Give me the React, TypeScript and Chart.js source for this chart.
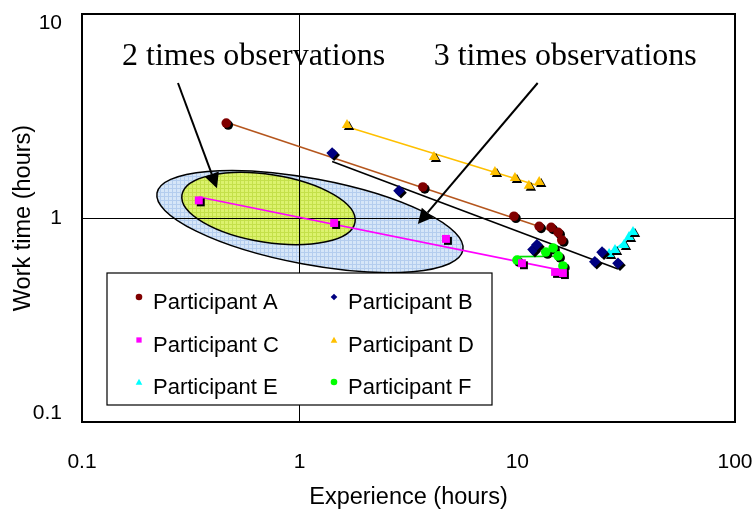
import React, { useEffect, useRef } from "react";
import { Chart, registerables } from "chart.js";

Chart.register(...registerables);

// ---------------- DATA ----------------
const participants = [
  "Participant A",
  "Participant B",
  "Participant C",
  "Participant D",
  "Participant E",
  "Participant F",
];

const aExperience = [0.46, 3.68, 9.65, 12.6, 14.3, 15.4, 16.0];
const aWorkTime = [2.92, 1.42, 1.02, 0.91, 0.9, 0.85, 0.78];

const bExperience = [1.41, 2.86, 11.8, 12.3, 24.5, 22.7, 29.0];
const bWorkTime = [2.08, 1.36, 0.7, 0.74, 0.68, 0.61, 0.6];

const cExperience = [0.344, 1.44, 4.7, 10.5, 14.9, 16.2];
const cWorkTime = [1.22, 0.945, 0.79, 0.6, 0.544, 0.537];

const dExperience = [1.65, 4.14, 7.89, 9.75, 11.3, 12.6];
const dWorkTime = [2.86, 1.99, 1.68, 1.57, 1.44, 1.5];

const eExperience = [26.4, 28.1, 30.9, 32.6, 34.0];
const eWorkTime = [0.666, 0.697, 0.738, 0.807, 0.854];

const fExperience = [9.96, 13.5, 14.6, 15.4, 16.2];
const fWorkTime = [0.622, 0.681, 0.713, 0.652, 0.582];

const xTickValues = [0.1, 1, 10, 100];
const yTickValues = [0.1, 1, 10];

const annotationTexts = ["2 times observations", "3 times observations"];

// ---------------- STYLE ----------------
const markerColors = ["#800000", "#000080", "#ff00ff", "#ffc000", "#00ffff", "#00ff00"];
const lineColors = ["#b5561e", "#000000", "#ff00ff", "#ffc000", "#00ffff", "#00dd00"];
const pointStyles = ["circle", "rectRot", "rect", "triangle", "triangle", "circle"];
const pointRadii = [4.8, 5.8, 5.6, 6, 6, 4.8];

const SANS = '"Liberation Sans", Arial, sans-serif';
const SERIF = '"Liberation Serif", "Times New Roman", serif';

const seriesX = [aExperience, bExperience, cExperience, dExperience, eExperience, fExperience];
const seriesY = [aWorkTime, bWorkTime, cWorkTime, dWorkTime, eWorkTime, fWorkTime];

function powerFit(xs: number[], ys: number[]) {
  const lx = xs.map((v) => Math.log10(v));
  const ly = ys.map((v) => Math.log10(v));
  const n = xs.length;
  const mx = lx.reduce((s, v) => s + v, 0) / n;
  const my = ly.reduce((s, v) => s + v, 0) / n;
  let sxy = 0;
  let sxx = 0;
  for (let i = 0; i < n; i++) {
    sxy += (lx[i] - mx) * (ly[i] - my);
    sxx += (lx[i] - mx) * (lx[i] - mx);
  }
  const b = sxy / sxx;
  const a = my - b * mx;
  const xmin = Math.min(...xs);
  const xmax = Math.max(...xs);
  return [xmin, xmax].map((x) => ({ x, y: Math.pow(10, a + b * Math.log10(x)) }));
}

// decorative overlay definitions (data coordinates)
const ellipseDefs = [
  { cx: 1.115, cy: 0.961, rx: 155.6, ry: 43, angle: 10.6, base: "#d6e6f8", line: "#b4cdee" },
  { cx: 0.719, cy: 1.113, rx: 87.6, ry: 34, angle: 8.9, base: "#dcf26e", line: "#c4e04a" },
];
const arrowDefs = [
  { x1: 0.276, y1: 4.59, x2: 0.417, y2: 1.4 },
  { x1: 12.4, y1: 4.59, x2: 3.49, y2: 0.935 },
];
const labelDefs = [
  { x: 0.614, y: 5.62 },
  { x: 16.6, y: 5.62 },
];

function makePattern(ctx: CanvasRenderingContext2D, base: string, line: string) {
  const c = document.createElement("canvas");
  c.width = 4;
  c.height = 4;
  const p = c.getContext("2d")!;
  p.fillStyle = base;
  p.fillRect(0, 0, 4, 4);
  p.fillStyle = line;
  p.fillRect(0, 0, 4, 1);
  p.fillRect(0, 0, 1, 4);
  return ctx.createPattern(c, "repeat") || base;
}

function drawMarker(ctx: CanvasRenderingContext2D, style: string, x: number, y: number, r: number, color: string) {
  ctx.fillStyle = color;
  ctx.beginPath();
  if (style === "circle") {
    ctx.arc(x, y, r, 0, Math.PI * 2);
  } else if (style === "rectRot") {
    ctx.moveTo(x, y - r);
    ctx.lineTo(x + r, y);
    ctx.lineTo(x, y + r);
    ctx.lineTo(x - r, y);
    ctx.closePath();
  } else if (style === "rect") {
    ctx.rect(x - r * 0.8, y - r * 0.8, r * 1.6, r * 1.6);
  } else {
    ctx.moveTo(x, y - r);
    ctx.lineTo(x + r, y + r * 0.8);
    ctx.lineTo(x - r, y + r * 0.8);
    ctx.closePath();
  }
  ctx.fill();
}

const overlayPlugin = {
  id: "overlay",
  beforeDraw(chart: any) {
    const { ctx, chartArea, scales } = chart;
    const xs = scales.x;
    const ys = scales.y;
    ctx.save();
    ctx.beginPath();
    ctx.rect(chartArea.left, chartArea.top, chartArea.right - chartArea.left, chartArea.bottom - chartArea.top);
    ctx.clip();
    for (const e of ellipseDefs) {
      const cx = xs.getPixelForValue(e.cx);
      const cy = ys.getPixelForValue(e.cy);
      ctx.beginPath();
      ctx.ellipse(cx, cy, e.rx, e.ry, (e.angle * Math.PI) / 180, 0, Math.PI * 2);
      ctx.fillStyle = makePattern(ctx, e.base, e.line);
      ctx.fill();
      ctx.lineWidth = 1.5;
      ctx.strokeStyle = "#000";
      ctx.stroke();
    }
    ctx.restore();
  },
  beforeDatasetDraw(chart: any, args: any) {
    const ds = chart.data.datasets[args.index];
    if (ds.showLine === false) {
      const ctx = chart.ctx;
      ctx.save();
      ctx.shadowColor = "#000";
      ctx.shadowOffsetX = 2;
      ctx.shadowOffsetY = 2;
      ctx.shadowBlur = 0;
    }
  },
  afterDatasetDraw(chart: any, args: any) {
    const ds = chart.data.datasets[args.index];
    if (ds.showLine === false) chart.ctx.restore();
  },
  afterDraw(chart: any) {
    const { ctx, chartArea, scales } = chart;
    const xs = scales.x;
    const ys = scales.y;
    ctx.save();
    // plot border
    ctx.strokeStyle = "#000";
    ctx.lineWidth = 2;
    ctx.strokeRect(chartArea.left, chartArea.top, chartArea.right - chartArea.left, chartArea.bottom - chartArea.top);

    // arrows
    for (const a of arrowDefs) {
      const x1 = xs.getPixelForValue(a.x1);
      const y1 = ys.getPixelForValue(a.y1);
      const x2 = xs.getPixelForValue(a.x2);
      const y2 = ys.getPixelForValue(a.y2);
      const ang = Math.atan2(y2 - y1, x2 - x1);
      const hl = 15;
      const hw = 7.5;
      const bx = x2 - hl * Math.cos(ang);
      const by = y2 - hl * Math.sin(ang);
      ctx.strokeStyle = "#000";
      ctx.lineWidth = 2;
      ctx.beginPath();
      ctx.moveTo(x1, y1);
      ctx.lineTo(bx, by);
      ctx.stroke();
      ctx.fillStyle = "#000";
      ctx.beginPath();
      ctx.moveTo(x2, y2);
      ctx.lineTo(bx + hw * Math.sin(ang), by - hw * Math.cos(ang));
      ctx.lineTo(bx - hw * Math.sin(ang), by + hw * Math.cos(ang));
      ctx.closePath();
      ctx.fill();
    }

    // annotation texts
    ctx.fillStyle = "#000";
    ctx.font = `32px ${SERIF}`;
    ctx.textAlign = "center";
    ctx.textBaseline = "alphabetic";
    labelDefs.forEach((l, i) => {
      ctx.fillText(annotationTexts[i], xs.getPixelForValue(l.x), ys.getPixelForValue(l.y));
    });

    // legend box
    const lx = chartArea.left + 25;
    const ly = chartArea.top + 259;
    const lw = 385;
    const lh = 132;
    ctx.fillStyle = "#fff";
    ctx.fillRect(lx, ly, lw, lh);
    ctx.strokeStyle = "#000";
    ctx.lineWidth = 1.2;
    ctx.strokeRect(lx, ly, lw, lh);
    ctx.font = `22px ${SANS}`;
    ctx.textAlign = "left";
    ctx.textBaseline = "middle";
    const rows = [30, 73, 115];
    const colText = [46, 241];
    const colMark = [32, 227];
    participants.forEach((name, i) => {
      const col = i % 2;
      const row = Math.floor(i / 2);
      const ty = ly + rows[row];
      drawMarker(ctx, pointStyles[i], lx + colMark[col], ty - 6, 3.3, markerColors[i]);
      ctx.fillStyle = "#000";
      ctx.fillText(name, lx + colText[col], ty);
    });
    ctx.restore();
  },
};

export default function App() {
  const canvasRef = useRef<HTMLCanvasElement | null>(null);

  useEffect(() => {
    document.body.style.margin = "0";
    const canvas = canvasRef.current;
    if (!canvas) return;

    const markerSets = participants.map((name, i) => ({
      label: name,
      data: seriesX[i].map((x, j) => ({ x, y: seriesY[i][j] })),
      showLine: false,
      pointStyle: pointStyles[i],
      pointRadius: pointRadii[i],
      pointBackgroundColor: markerColors[i],
      pointBorderColor: markerColors[i],
      pointBorderWidth: 0,
      backgroundColor: markerColors[i],
      borderColor: markerColors[i],
    }));
    const trendSets = participants.map((name, i) => ({
      label: name + " trend",
      data: powerFit(seriesX[i], seriesY[i]),
      showLine: true,
      pointRadius: 0,
      borderColor: lineColors[i],
      backgroundColor: lineColors[i],
      borderWidth: 1.6,
      fill: false,
    }));

    const chart = new Chart(canvas, {
      type: "scatter",
      data: { datasets: [...markerSets, ...trendSets] as any },
      options: {
        responsive: false,
        animation: false,
        events: [],
        layout: { padding: { top: 14, right: 20, left: 0, bottom: 0 } },
        plugins: { legend: { display: false }, tooltip: { enabled: false } },
        scales: {
          x: {
            type: "logarithmic",
            min: 0.1,
            max: 100,
            afterBuildTicks: (s: any) => {
              s.ticks = xTickValues.map((v) => ({ value: v }));
            },
            afterFit: (s: any) => {
              s.height = 90;
              s.paddingLeft = 0;
              s.paddingRight = 0;
            },
            border: { display: false },
            grid: {
              drawTicks: false,
              lineWidth: 1,
              color: (c: any) => (c.tick && c.tick.value === 1 ? "#000" : "rgba(0,0,0,0)"),
            },
            ticks: {
              autoSkip: false,
              maxRotation: 0,
              padding: 28,
              color: "#000",
              font: { family: SANS, size: 21 },
              callback: (v: any) => String(v),
            },
            title: {
              display: true,
              text: "Experience (hours)",
              color: "#000",
              font: { family: SANS, size: 23.5 },
              padding: { top: 0, bottom: 0 },
            },
          },
          y: {
            type: "logarithmic",
            min: 0.1,
            max: 10,
            afterBuildTicks: (s: any) => {
              s.ticks = yTickValues.map((v) => ({ value: v }));
            },
            afterFit: (s: any) => {
              s.width = 82;
              s.paddingTop = 0;
              s.paddingBottom = 0;
            },
            border: { display: false },
            grid: {
              drawTicks: false,
              lineWidth: 1,
              color: (c: any) => (c.tick && c.tick.value === 1 ? "#000" : "rgba(0,0,0,0)"),
            },
            ticks: {
              autoSkip: false,
              padding: 20,
              color: "#000",
              font: { family: SANS, size: 21, lineHeight: 0.85 },
              callback: (v: any) => {
                const i = yTickValues.indexOf(v);
                const s = String(v);
                if (i === yTickValues.length - 1) return ["", s];
                if (i === 0) return [s, ""];
                return s;
              },
            },
            title: {
              display: true,
              text: "Work time (hours)",
              color: "#000",
              font: { family: SANS, size: 23.5 },
              padding: { top: 9, bottom: 0 },
            },
          },
        },
      },
      plugins: [overlayPlugin],
    });

    return () => chart.destroy();
  }, []);

  return <canvas ref={canvasRef} width={755} height={512} style={{ display: "block" }} />;
}
